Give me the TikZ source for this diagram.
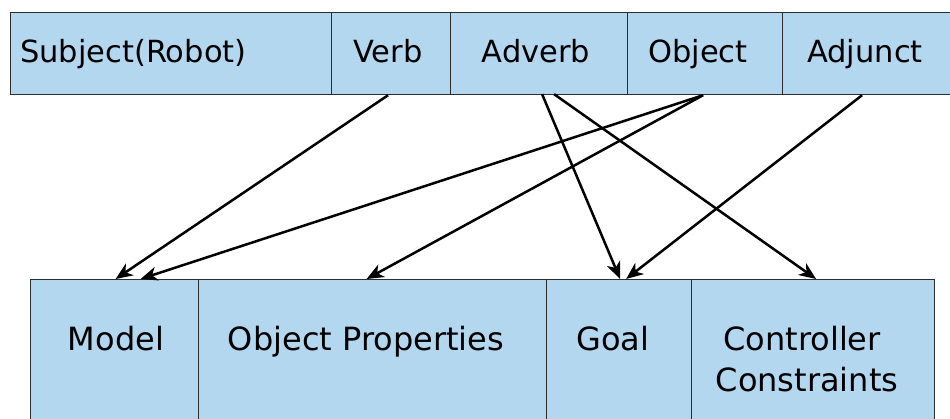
\documentclass[tikz,border=0pt]{standalone}
\usepackage{fontspec}
\setmainfont{DejaVu Sans}
\usetikzlibrary{arrows.meta,calc}
\definecolor{cellblue}{RGB}{180,215,240}
\definecolor{cellline}{RGB}{45,45,45}
\tikzset{
  cell/.style={draw=cellline, line width=1.2pt, fill=cellblue, rectangle,
    inner sep=0pt, anchor=north west},
  toplabel/.style={font=\fontsize{30.5}{36}\selectfont, anchor=base, inner sep=0pt},
  botlabel/.style={font=\fontsize{32}{40}\selectfont, anchor=base, inner sep=0pt, align=center},
  link/.style={line width=2.5pt, -{Stealth[length=17pt,width=14pt,inset=5pt]}}
}
\begin{document}
\begin{tikzpicture}[x=1pt,y=-1pt]
\useasboundingbox (0,0) rectangle (950,419);
\clip (0,0) rectangle (950,419);
% sentence parts (top row)
\node[cell, minimum width=321pt, minimum height=82pt] (subj) at (10,12) {};
\node[cell, minimum width=119pt, minimum height=82pt] (verb) at (331,12) {};
\node[cell, minimum width=177pt, minimum height=82pt] (adverb) at (450,12) {};
\node[cell, minimum width=155pt, minimum height=82pt] (object) at (627,12) {};
\node[cell, minimum width=175pt, minimum height=82pt] (adjunct) at (782,12) {};
% controller ingredients (bottom row)
\node[cell, minimum width=168pt, minimum height=160pt] (model) at (30,279) {};
\node[cell, minimum width=348pt, minimum height=160pt] (props) at (198,279) {};
\node[cell, minimum width=145pt, minimum height=160pt] (goal) at (546,279) {};
\node[cell, minimum width=243pt, minimum height=160pt] (ctrl) at (691,279) {};
% labels
\node[toplabel, anchor=base west] (tsubj) at (20,63) {Subject(Robot)};
\node[toplabel] (tverb) at (388,63) {Verb};
\node[toplabel] (tadverb) at (536,63) {Adverb};
\node[toplabel] (tobject) at (698,63) {Object};
\node[toplabel] (tadjunct) at (865,63) {Adjunct};
\node[botlabel] (tmodel) at (116,351) {Model};
\node[botlabel] (tprops) at (366,351) {Object Properties};
\node[botlabel] (tgoal) at (613,351) {Goal};
\node[botlabel] (tctrl1) at (802,351) {Controller};
\node[botlabel] (tctrl2) at (807,391) {Constraints};
% connectors
\draw[link] ($(verb.south)+(-3,0)$) -- ($(model.north)+(1,0)$);
\draw[link] ($(object.south)+(-2,0)$) -- ($(model.north)+(26,0)$);
\draw[link] ($(object.south)+(-2,0)$) -- ($(props.north)+(-6,0)$);
\draw[link] ($(adverb.south)+(3,-1)$) -- ($(goal.north)+(1,0)$);
\draw[link] ($(adverb.south)+(15,-1)$) -- ($(ctrl.north)+(3,0)$);
\draw[link] ($(adjunct.south)+(-8,0)$) -- ($(goal.north)+(7,0)$);
\end{tikzpicture}
\end{document}
